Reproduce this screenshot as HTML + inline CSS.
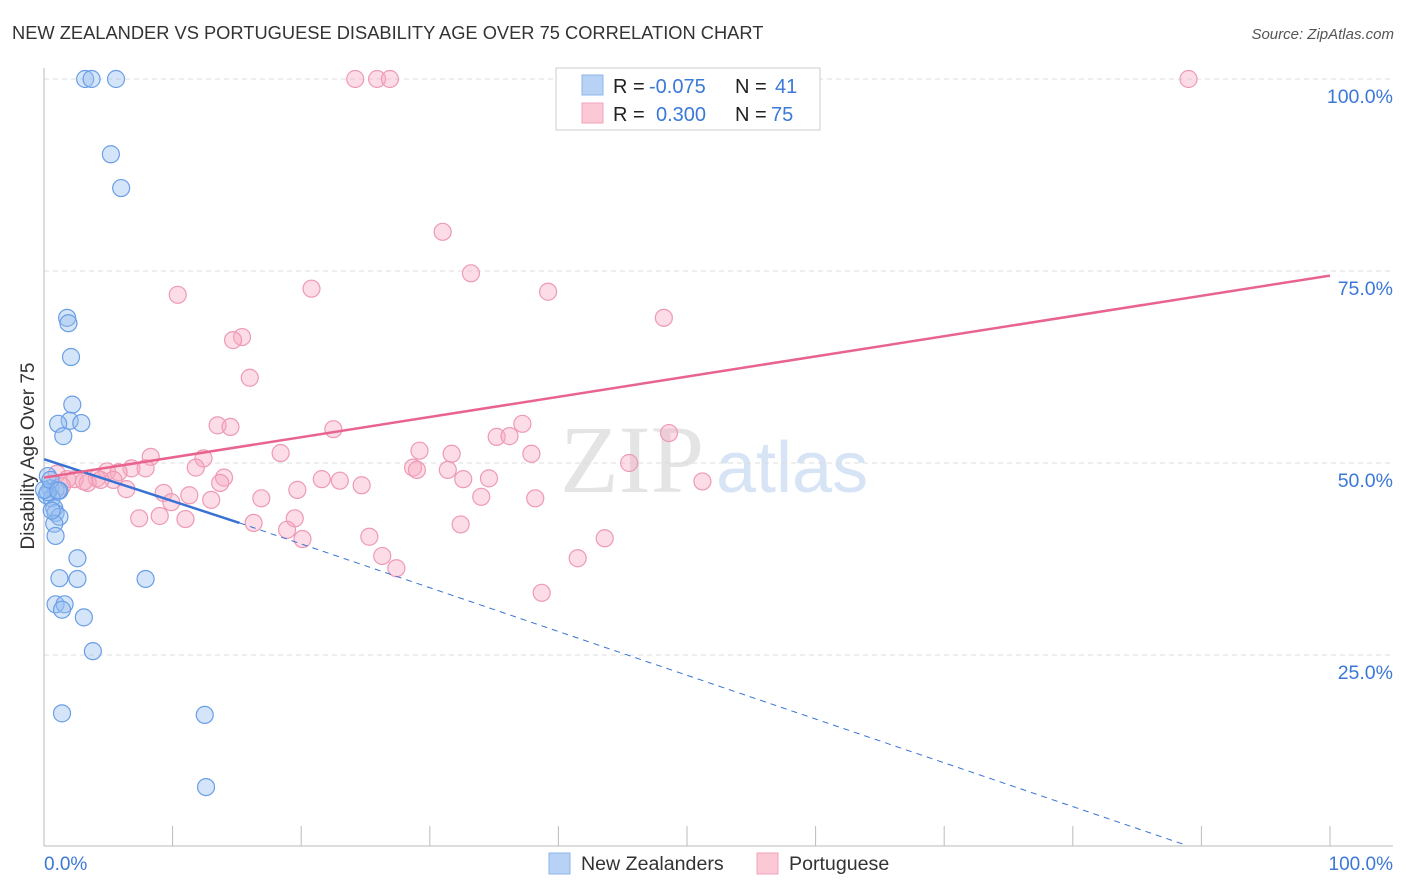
<!DOCTYPE html>
<html><head><meta charset="utf-8"><style>
body{margin:0;background:#fff;font-family:"Liberation Sans",sans-serif;}
#wrap{position:relative;width:1406px;height:892px;}
</style></head><body>
<div id="wrap">
<svg id="svg" width="1406" height="892" style="position:absolute;left:0;top:0">
<text x="12" y="39" font-size="18.3" fill="#333">NEW ZEALANDER VS PORTUGUESE DISABILITY AGE OVER 75 CORRELATION CHART</text>
<text x="1394" y="39" font-size="15" fill="#555" font-style="italic" text-anchor="end">Source: ZipAtlas.com</text>
<text x="34" y="456" font-size="19" fill="#333" text-anchor="middle" transform="rotate(-90 34 456)">Disability Age Over 75</text>
<text x="560" y="492" font-size="96" fill="#e4e4e4" font-family="Liberation Serif,serif">ZIP</text>
<text x="716" y="492" font-size="72" fill="#d6e4f5">atlas</text>
<g id="grid"></g><g id="pts"></g><g id="lines"></g>
<g font-size="20">
<rect x="556" y="68" width="264" height="62" fill="#fff" stroke="#ccc"/>
<rect x="582" y="75" width="21" height="20" fill="#b7d2f5" stroke="#8fb6ea"/>
<rect x="582" y="103" width="21" height="20" fill="#fbc8d6" stroke="#f2a3bb"/>
<text x="613" y="93" fill="#222">R =</text><text x="649" y="93" fill="#3b78d8">-0.075</text>
<text x="735" y="93" fill="#222">N =</text><text x="775" y="93" fill="#3b78d8">41</text>
<text x="613" y="121" fill="#222">R =</text><text x="656" y="121" fill="#3b78d8">0.300</text>
<text x="735" y="121" fill="#222">N =</text><text x="771" y="121" fill="#3b78d8">75</text>
</g>
<g>
<rect x="549" y="853" width="21" height="21" fill="#b7d2f5" stroke="#8fb6ea"/>
<text x="581" y="870" font-size="19.6" fill="#333">New Zealanders</text>
<rect x="757" y="853" width="21" height="21" fill="#fbc8d6" stroke="#f2a3bb"/>
<text x="789" y="870" font-size="19.6" fill="#333">Portuguese</text>
</g>
</svg>
</div>
<script>
const yTicks=[25,50,75,100];
const yTickLabels=["25.0%","50.0%","75.0%","100.0%"];
const xTicks=[0,10,20,30,40,50,60,70,80,90,100];
const nzX=[3.2,3.7,5.6,5.2,6,1.8,1.9,2.1,2.2,2,1.1,2.9,1.5,0.3,0.5,0.9,1.2,0.2,0.6,0.8,0.9,1.2,0.8,0.9,2.6,1.2,2.6,7.9,0.9,1.6,1.4,3.1,3.8,1.4,12.5,12.6,0.3,0,0.5,1.1,0.6];
const nzY=[100,100,100,90.2,85.8,68.9,68.2,63.8,57.6,55.5,55.1,55.2,53.5,48.3,46.7,46.5,46.4,45.8,45.4,44.1,43.5,43,42.1,40.5,37.6,35,34.9,34.9,31.6,31.6,30.9,29.9,25.5,17.4,17.2,7.8,46.2,46.5,47.8,46.4,43.8];
const ptX=[24.2,25.9,26.9,89,31,33.2,20.8,39.2,10.4,48.2,15.4,14.7,16,37.2,13.5,14.5,22.5,48.6,35.2,36.2,29.2,31.7,37.9,8.3,12.4,18.4,45.5,28.7,29,31.4,11.8,6.8,7.9,4.9,5.8,1,1.8,2.4,4.1,5.4,3.4,1.4,14,21.6,23,32.6,34.6,24.7,51.2,6.4,19.7,9.3,11.3,34,38.2,16.9,13,9.9,9,7.4,11,16.3,19.5,32.4,18.9,20.1,25.3,43.6,26.3,41.5,27.4,38.7,13.7,4.4,3.1];
const ptY=[100,100,100,100,80.1,74.7,72.7,72.3,71.9,68.9,66.4,66,61.1,55.1,54.9,54.7,54.4,53.9,53.4,53.5,51.6,51.2,51.2,50.8,50.6,51.3,50,49.4,49.1,49.1,49.4,49.3,49.3,48.9,48.8,48.6,47.9,47.9,48,47.8,47.4,47,48.1,47.9,47.7,47.9,48,47.1,47.6,46.6,46.5,46.1,45.8,45.6,45.4,45.4,45.2,44.9,43.1,42.8,42.7,42.2,42.8,42,41.3,40.1,40.4,40.2,37.9,37.6,36.3,33.1,47.4,47.8,47.6];
const nzTrend=[[0,50.5],[15.2,42.2]];
const nzTrendDash=[[15.2,42.2],[88.7,0.3]];
const ptTrend=[[0,48.1],[100,74.4]];
const NS="http://www.w3.org/2000/svg";
const sx=v=>44+v*12.86, sy=v=>847-v*7.68;
function mk(t,a,p){const e=document.createElementNS(NS,t);for(const k in a)e.setAttribute(k,a[k]);p.appendChild(e);return e;}
const grid=document.getElementById('grid');
yTicks.forEach((t,i)=>{
 const l=mk('line',{x1:44,x2:1393,y1:sy(t),y2:sy(t),stroke:'#ddd','stroke-dasharray':'5,4'},grid);
 
 
 const tx=mk('text',{x:1393,y:sy(t)+24,'font-size':19.5,fill:'#3b78d8','text-anchor':'end'},grid);
 tx.textContent=yTickLabels[i];
 
 
});
mk('line',{x1:44,x2:44,y1:68,y2:846,stroke:'#bbb'},grid);
mk('line',{x1:44,x2:1393,y1:846,y2:846,stroke:'#bbb'},grid);
xTicks.forEach(t=>{const l=mk('line',{x1:sx(t),x2:sx(t),y1:826,y2:846,stroke:'#bbb'},grid);
 
 });
const x0=mk('text',{x:44,y:870,'font-size':19,fill:'#3b78d8'},grid);x0.textContent='0.0%';


const x1=mk('text',{x:1393,y:870,'font-size':19,fill:'#3b78d8','text-anchor':'end'},grid);x1.textContent='100.0%';


const pts=document.getElementById('pts');
ptX.forEach((x,i)=>{const c=mk('circle',{cx:sx(x),cy:sy(ptY[i]),r:8.5,fill:'rgba(248,168,192,0.4)',stroke:'#ee9ab4','stroke-width':1.2},pts);
 
 });
nzX.forEach((x,i)=>{const c=mk('circle',{cx:sx(x),cy:sy(nzY[i]),r:8.5,fill:'rgba(150,190,240,0.4)',stroke:'#6a9ee6','stroke-width':1.2},pts);
 
 });
const lines=document.getElementById('lines');
const a=mk('line',{x1:sx(nzTrend[0][0]),y1:sy(nzTrend[0][1]),x2:sx(nzTrend[1][0]),y2:sy(nzTrend[1][1]),stroke:'#3a72d4','stroke-width':2.5},lines);


const b=mk('line',{x1:sx(nzTrendDash[0][0]),y1:sy(nzTrendDash[0][1]),x2:sx(nzTrendDash[1][0]),y2:sy(nzTrendDash[1][1]),stroke:'#3a72d4','stroke-width':1,'stroke-dasharray':'6,5'},lines);


const c=mk('line',{x1:sx(ptTrend[0][0]),y1:sy(ptTrend[0][1]),x2:sx(ptTrend[1][0]),y2:sy(ptTrend[1][1]),stroke:'#e8648e','stroke-width':2.5},lines);


</script>
</body></html>
